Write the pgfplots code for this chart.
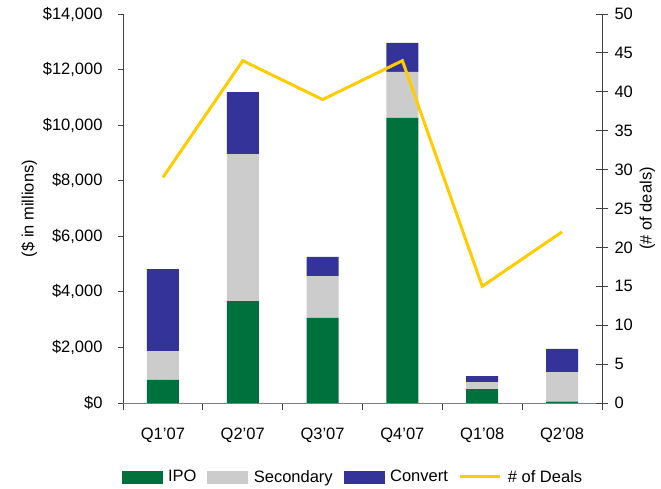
\documentclass[border=0pt]{standalone}
\usepackage{fontspec}
\setmainfont{Liberation Sans}
\usepackage{pgfplots}
\pgfplotsset{compat=1.18}
\definecolor{ipo}{RGB}{0,112,60}
\definecolor{sec}{RGB}{204,204,204}
\definecolor{conv}{RGB}{51,51,153}
\definecolor{deal}{RGB}{255,204,0}
\begin{document}
\begin{tikzpicture}
\pgfplotsset{
  every axis/.append style={font=\fontsize{16.5}{19}\selectfont},
  /pgf/number format/assume math mode=true,
}
\begin{axis}[
  scale only axis, width=479pt, height=389pt,
  xmin=-0.5, xmax=5.5, ymin=0, ymax=14000,
  axis y line*=left, axis x line*=bottom,
  axis line style={black!75, line width=0.8pt},
  x axis line style={black!50},
  xtick={0,...,5},
  xticklabels={Q1'07,Q2'07,Q3'07,Q4'07,Q1'08,Q2'08},
  major x tick style={draw=none},
  minor xtick={-0.5,0.5,...,5.5},
  minor x tick style={black!75, line width=0.8pt},
  minor tick length=7pt,
  tick align=outside,
  xticklabel style={yshift=-16pt},
  ytick={0,2000,...,14000},
  major tick length=5pt,
  y tick style={black!75, line width=0.8pt},
  scaled y ticks=false,
  yticklabel={\$\pgfmathprintnumber[1000 sep={,}]{\tick}},
  yticklabel style={xshift=-12pt},
  ylabel={(\$ in millions)},
  ylabel style={yshift=-1pt},
  ybar stacked, bar width=32pt,
]
\addplot[fill=ipo, draw=none] coordinates {(0,830) (1,3670) (2,3060) (3,10260) (4,500) (5,50)};
\addplot[fill=sec, draw=none] coordinates {(0,1040) (1,5290) (2,1510) (3,1655) (4,250) (5,1065)};
\addplot[fill=conv, draw=none] coordinates {(0,2950) (1,2230) (2,685) (3,1045) (4,215) (5,830)};
\coordinate (bl) at (rel axis cs:-0.2568,-0.2211);
\coordinate (tr) at (rel axis cs:1.1232,1.036);
\end{axis}
\begin{axis}[
  scale only axis, width=479pt, height=389pt,
  xmin=-0.5, xmax=5.5, ymin=0, ymax=50,
  axis y line*=right, axis x line=none,
  axis line style={black!75, line width=0.8pt},
  ytick={0,5,...,50},
  tick align=center,
  major tick length=12pt,
  y tick style={black!75, line width=0.8pt},
  yticklabel style={xshift=3pt},
  ylabel={(\# of deals)},
  ylabel style={yshift=0pt},
  legend style={at={(0.48,-0.19)}, anchor=center, draw=none, fill=none,
    legend columns=-1, font=\fontsize{16.5}{19}\selectfont,
    /tikz/every even column/.append style={column sep=9pt},
    /tikz/every odd column/.append style={column sep=4pt}},
]
\addlegendimage{legend image code/.code={\fill[ipo] (0pt,-6pt) rectangle (40pt,6pt);}}
\addlegendentry{IPO}
\addlegendimage{legend image code/.code={\fill[sec] (0pt,-6pt) rectangle (40pt,6pt);}}
\addlegendentry{Secondary}
\addlegendimage{legend image code/.code={\fill[conv] (0pt,-6pt) rectangle (40pt,6pt);}}
\addlegendentry{Convert}
\addlegendimage{legend image code/.code={\draw[deal, line width=3pt] (0pt,0pt) -- (40pt,0pt);}}
\addlegendentry{\# of Deals}
\addplot[deal, line width=3pt, mark=none, forget plot] coordinates {(0,29) (1,44) (2,39) (3,44) (4,15) (5,22)};
\end{axis}
\pgfresetboundingbox
\path[use as bounding box] (bl) rectangle (tr);
\end{tikzpicture}
\end{document}
